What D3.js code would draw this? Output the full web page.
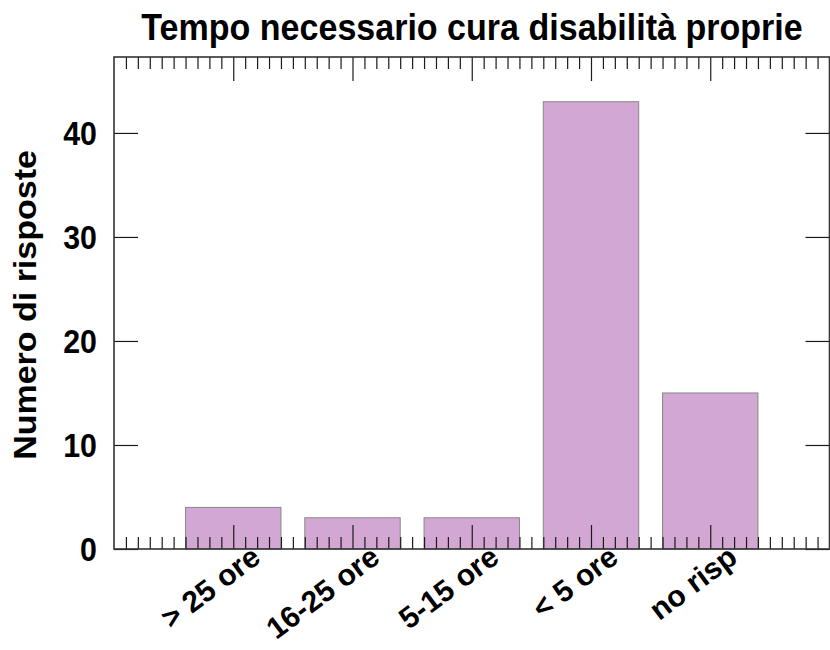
<!DOCTYPE html>
<html>
<head>
<meta charset="utf-8">
<script src="https://cdn.jsdelivr.net/npm/d3@7"></script>
<style>
  html, body { margin: 0; padding: 0; background: #fff; }
  svg text { font-family: "Liberation Sans", Arial, sans-serif; font-weight: bold; fill: #000; }
</style>
</head>
<body>
<div id="chart"></div>
<script>
// data
var categories = ["> 25 ore", "16-25 ore", "5-15 ore", "< 5 ore", "no risp"];
var counts = [4, 3, 3, 43, 15];
var yTicks = [0, 10, 20, 30, 40];
var titleText = "Tempo necessario cura disabilità proprie";
var yLabelText = "Numero di risposte";

(function () {
  var W = 830, H = 650;
  var m = { top: 57, right: 0.5, bottom: 101, left: 114 };
  var fillColor = "#d3a7d3";
  var edgeColor = "#878787";
  var squeeze = 0.92; // the reference's lettering is a bit condensed

  var svg = d3.select("#chart").append("svg")
    .attr("width", W).attr("height", H);

  // categories sit at 1..n on a 0..n+1 axis, gnuplot style
  var x = d3.scaleLinear().domain([0, categories.length + 1]).range([m.left, W - m.right]);
  var y = d3.scaleLinear().domain([0, d3.max(counts) * 1.1]).range([H - m.bottom, m.top]);
  var x0 = x.range()[0], x1 = x.range()[1], y0 = y.range()[0], y1 = y.range()[1];
  var bw = (x(1) - x(0)) * 0.8;

  // title
  svg.append("text")
    .attr("transform", "translate(472,40) scale(" + squeeze + ",1)")
    .attr("text-anchor", "middle").attr("font-size", "37px")
    .text(titleText);

  // y axis label
  svg.append("text")
    .attr("transform", "translate(36,305) scale(" + squeeze + ",1) rotate(-90)")
    .attr("text-anchor", "middle").attr("font-size", "34px")
    .text(yLabelText);

  // bars
  svg.append("g").selectAll("rect").data(counts).enter().append("rect")
    .attr("x", function (d, i) { return x(i + 1) - bw / 2; })
    .attr("y", function (d) { return y(d); })
    .attr("width", bw)
    .attr("height", function (d) { return y(0) - y(d); })
    .attr("fill", fillColor)
    .attr("stroke", edgeColor).attr("stroke-width", 1);

  // ticks: minor every 0.1 on x, major at each category; drawn over the bars
  var minor = d3.range(1, (categories.length + 1) * 10)
    .filter(function (v) { return v % 10 !== 0; })
    .map(function (v) { return v / 10; });
  var major = d3.range(1, categories.length + 1);

  var bottom = d3.axisTop(x).tickValues(minor).tickSize(12).tickFormat("").tickSizeOuter(0);
  var bottomMaj = d3.axisTop(x).tickValues(major).tickSize(24).tickFormat("").tickSizeOuter(0);
  var top = d3.axisBottom(x).tickValues(minor).tickSize(12).tickFormat("").tickSizeOuter(0);
  var topMaj = d3.axisBottom(x).tickValues(major).tickSize(24).tickFormat("").tickSizeOuter(0);
  var left = d3.axisRight(y).tickValues(yTicks).tickSize(24).tickFormat("").tickSizeOuter(0);
  var right = d3.axisLeft(y).tickValues(yTicks).tickSize(24).tickFormat("").tickSizeOuter(0);

  function styleAxis(sel) {
    sel.select(".domain").remove();
    sel.selectAll("line").attr("stroke", "#1a1a1a").attr("stroke-width", 1.2);
  }
  svg.append("g").attr("transform", "translate(0," + y0 + ")").call(bottom).call(styleAxis);
  svg.append("g").attr("transform", "translate(0," + y0 + ")").call(bottomMaj).call(styleAxis);
  svg.append("g").attr("transform", "translate(0," + y1 + ")").call(top).call(styleAxis);
  svg.append("g").attr("transform", "translate(0," + y1 + ")").call(topMaj).call(styleAxis);
  svg.append("g").attr("transform", "translate(" + x0 + ",0)").call(left).call(styleAxis);
  svg.append("g").attr("transform", "translate(" + x1 + ",0)").call(right).call(styleAxis);

  // frame
  svg.append("rect")
    .attr("x", x0).attr("y", y1).attr("width", x1 - x0).attr("height", y0 - y1)
    .attr("fill", "none").attr("stroke", "#333").attr("stroke-width", 1.6);

  // y tick labels
  svg.append("g").selectAll("text").data(yTicks).enter().append("text")
    .attr("transform", function (d) {
      return "translate(" + (x0 - 17) + "," + (y(d) + 12) + ") scale(" + squeeze + ",1)";
    })
    .attr("text-anchor", "end").attr("font-size", "33px")
    .text(function (d) { return d; });

  // rotated x tick labels
  svg.append("g").selectAll("text").data(categories).enter().append("text")
    .attr("transform", function (d, i) {
      return "translate(" + (x(i + 1) + 29) + "," + (y0 + 12) + ") rotate(-37)";
    })
    .attr("text-anchor", "end").attr("font-size", "30px")
    .text(function (d) { return d; });
})();
</script>
</body>
</html>
